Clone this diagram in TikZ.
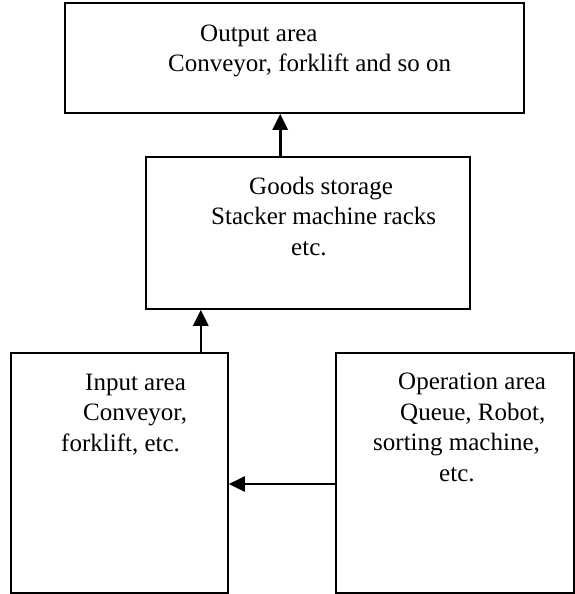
\documentclass[tikz,border=0pt]{standalone}
\usepackage{fontspec}
\setmainfont{Liberation Serif}
\usetikzlibrary{arrows.meta}
\usetikzlibrary{positioning}

\tikzset{
area/.style = {draw, line width=1.6pt, inner sep=0pt},
% base of a multi-line node sits on its last line
areatext/.style = {anchor=base west, align=left, inner sep=0pt,
                   font=\fontsize{25}{30.5}\selectfont},
flow/.style = {line width=2.6pt, -{Triangle[width=15pt,length=16pt]}}
}

\begin{document}
\begin{tikzpicture}[x=1pt, y=-1pt]
        \useasboundingbox (0,0) rectangle (575,594);

        % the four areas
        \node[area, minimum width=459pt, minimum height=110pt] (output) at (294.5,58) {};
        \node[area, minimum width=324pt, minimum height=152pt] (goods) at (308,233) {};
        \node[area, minimum width=217pt, minimum height=240pt] (input) at (119.5,473) {};
        \node[area, minimum width=238pt, minimum height=240pt] (operation) at (455,473) {};

        % what each area holds
        \node[areatext] (outputtext) at (168,71.5)
            {\hspace*{32pt}Output area\\Conveyor, forklift and so on};
        \node[areatext] (goodstext) at (211,255)
            {\hspace*{38pt}Goods storage\\Stacker machine racks\\\hspace*{80pt}etc.};
        \node[areatext] (inputtext) at (61,451)
            {\hspace*{24pt}Input area\\\hspace*{22pt}Conveyor,\\forklift, etc.};
        \node[areatext] (operationtext) at (373,481)
            {\hspace*{25pt}Operation area\\\hspace*{27pt}Queue, Robot,\\sorting machine,\\\hspace*{66pt}etc.};

        % flow of goods
        \coordinate (goodsout) at ([xshift=135pt]goods.north west);
        \coordinate (inputout) at ([xshift=-28pt]input.north east);
        \draw[flow] (goodsout) -- (goodsout |- output.south);
        \draw[flow] (inputout) -- (inputout |- goods.south);
        \draw[flow] ([yshift=-11pt]operation.west) -- ([yshift=-11pt]input.east);
\end{tikzpicture}
\end{document}
